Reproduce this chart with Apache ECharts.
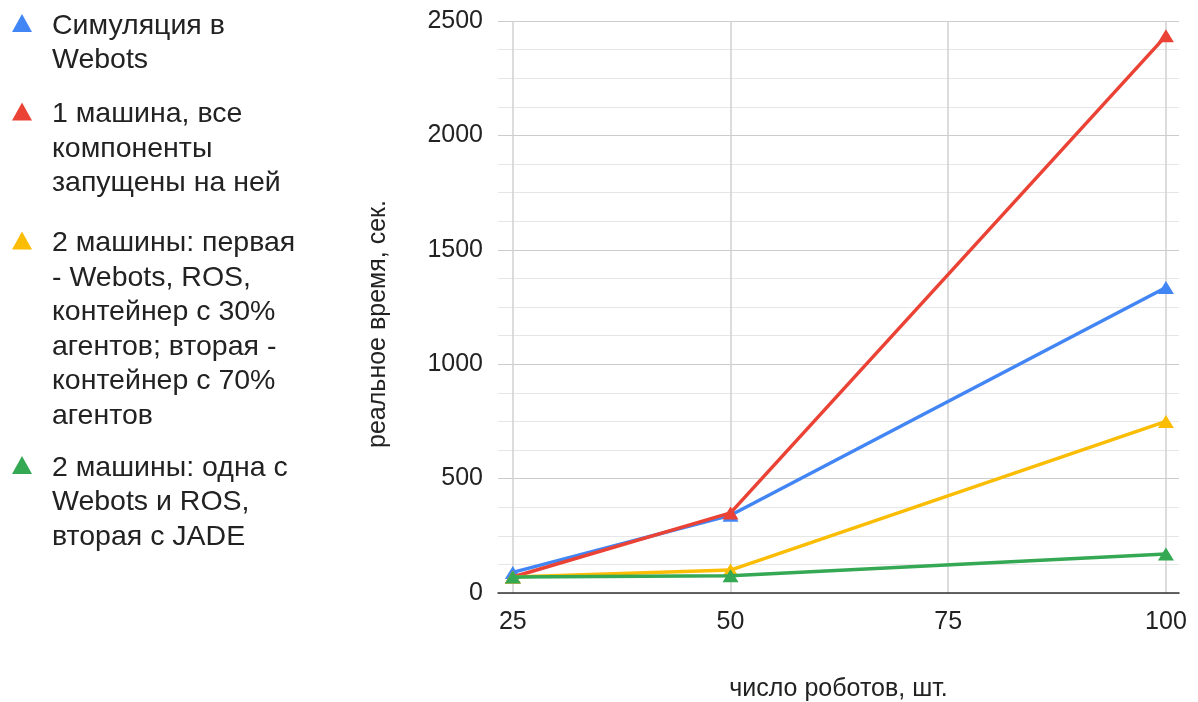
<!DOCTYPE html>
<html>
<head>
<meta charset="utf-8">
<script src="https://cdn.jsdelivr.net/npm/echarts@6/dist/echarts.min.js"></script>
<style>
  html, body { margin: 0; padding: 0; background: #fff; }
  #chart { width: 1198px; height: 702px; }
</style>
</head>
<body>
<div id="chart"></div>
<script>
// Число роботов (ось X)
const robots = [25, 50, 100];
const xTicks = [25, 50, 75, 100];

// Конфигурации запуска
const seriesNames = [
  'Симуляция в Webots',
  '1 машина, все компоненты запущены на ней',
  '2 машины: первая - Webots, ROS, контейнер с 30% агентов; вторая - контейнер с 70% агентов',
  '2 машины: одна с Webots и ROS, вторая с JADE'
];

// Подписи легенды, разбитые на строки
const legendLines = [
  ['Симуляция в', 'Webots'],
  ['1 машина, все', 'компоненты', 'запущены на ней'],
  ['2 машины: первая', '- Webots, ROS,', 'контейнер с 30%', 'агентов; вторая -', 'контейнер с 70%', 'агентов'],
  ['2 машины: одна с', 'Webots и ROS,', 'вторая с JADE']
];

// Реальное время, сек.
const webotsOnly = [90, 340, 1335];
const oneMachine = [70, 350, 2435];
const twoMachinesSplit = [70, 100, 750];
const twoMachinesJade = [70, 75, 170];

const colors = ['#4285F4', '#EA4335', '#FBBC04', '#34A853'];
const seriesValues = [webotsOnly, oneMachine, twoMachinesSplit, twoMachinesJade];

const FONT = '"Liberation Sans", Arial, sans-serif';
const TEXT = '#222222';
const LINE_H = 34.5;
// центр первой строки каждой записи легенды
const legendFirstLine = [26, 114.5, 243.5, 468];

// Каждая запись легенды — отдельный компонент: треугольник выровнен по первой строке,
// а над текстом добавляется пустая строка-распорка нужной высоты.
const legends = seriesNames.map((name, i) => {
  const n = legendLines[i].length;
  const gap = (n - 1) * LINE_H + 6;
  return {
    orient: 'vertical',
    left: 12,
    top: legendFirstLine[i] - gap - LINE_H / 2,
    padding: 0,
    itemWidth: 20,
    itemHeight: 18,
    icon: 'triangle',
    selectedMode: false,
    data: [name],
    formatter: () => '{g|\u00a0}\n' + legendLines[i].map(l => '{t|' + l + '}').join('\n'),
    textStyle: {
      fontFamily: FONT,
      fontSize: 28.5,
      color: TEXT,
      rich: {
        g: { height: gap, lineHeight: gap, fontSize: 4 },
        t: { fontFamily: FONT, fontSize: 28.5, color: TEXT, lineHeight: LINE_H, padding: [0, 0, 0, 15] }
      }
    }
  };
});

const chart = echarts.init(document.getElementById('chart'), null, { renderer: 'canvas' });

chart.setOption({
  animation: false,
  color: colors,
  legend: legends,
  grid: {
    left: 498, right: 19, top: 21, bottom: 109,
    containLabel: false,
    outerBoundsMode: 'none'
  },
  xAxis: {
    type: 'value',
    min: 23.3,
    max: 101.5,
    name: 'число роботов, шт.',
    nameLocation: 'middle',
    nameGap: 84,
    nameTextStyle: { fontFamily: FONT, fontSize: 25, color: TEXT },
    axisLine: { show: true, onZero: false, lineStyle: { color: '#333333', width: 1.5 } },
    axisTick: { show: false, customValues: xTicks },
    axisLabel: {
      customValues: xTicks,
      margin: 17,
      fontFamily: FONT,
      fontSize: 25,
      color: TEXT
    },
    splitLine: { show: true, lineStyle: { color: '#d0d0d0', width: 1.5 } }
  },
  yAxis: {
    type: 'value',
    min: 0,
    max: 2500,
    interval: 500,
    name: 'реальное время, сек.',
    nameLocation: 'middle',
    nameGap: 107,
    nameTextStyle: { fontFamily: FONT, fontSize: 25, color: TEXT, padding: [0, 34, 0, 0] },
    axisLine: { show: false },
    axisTick: { show: false },
    axisLabel: {
      margin: 15, fontFamily: FONT, fontSize: 25, color: TEXT,
      padding: [2, 0, 0, 0],
      formatter: v => String(v)
    },
    splitLine: { show: true, lineStyle: { color: '#cccccc', width: 1.2 } },
    minorTick: { show: false, splitNumber: 4 },
    minorSplitLine: { show: true, lineStyle: { color: '#e6e6e6', width: 1.2 } }
  },
  series: seriesNames.map((name, i) => ({
    name: name,
    type: 'line',
    data: robots.map((r, j) => [r, seriesValues[i][j]]),
    symbol: 'triangle',
    symbolSize: [16, 13],
    showAllSymbol: true,
    lineStyle: { width: 3.5, color: colors[i] },
    itemStyle: { color: colors[i] },
    z: 2 + i
  }))
});
</script>
</body>
</html>
